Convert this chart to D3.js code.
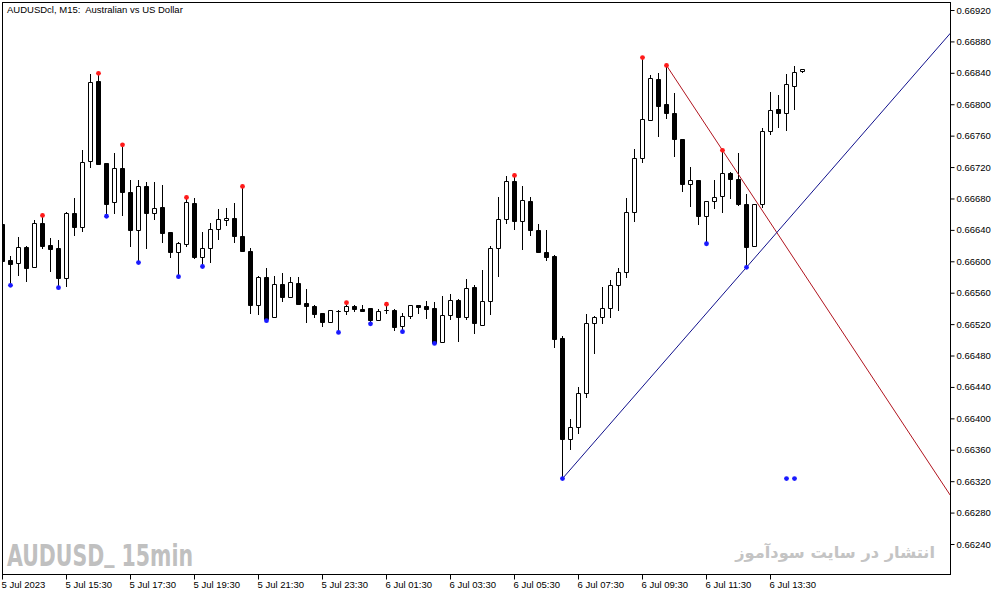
<!DOCTYPE html>
<html>
<head>
<meta charset="utf-8">
<script src="https://cdn.jsdelivr.net/npm/d3@7"></script>
<style>
  html, body { margin: 0; padding: 0; background: #fff; }
  svg { display: block; }
</style>
</head>
<body>
<div id="chart"></div>
<script>
// AUDUSD M15 bars, 5 Jul 2023 13:30 onwards
const open = [
  0.66647, 0.66602, 0.66598, 0.66618, 0.66593, 0.66649, 0.66621, 0.66617, 0.66579, 0.66661,
  0.66644, 0.66728, 0.66830, 0.66725, 0.66675, 0.66719, 0.66688, 0.66640, 0.66696, 0.66661,
  0.66669, 0.66637, 0.66612, 0.66622, 0.66674, 0.66605, 0.66617, 0.66641, 0.66652, 0.66655,
  0.66632, 0.66613, 0.66544, 0.66580, 0.66529, 0.66571, 0.66554, 0.66572, 0.66547, 0.66543,
  0.66534, 0.66523, 0.66537, 0.66537, 0.66543, 0.66539, 0.66540, 0.66525, 0.66538, 0.66538,
  0.66517, 0.66530, 0.66544, 0.66543, 0.66540, 0.66497, 0.66531, 0.66551, 0.66529, 0.66567,
  0.66519, 0.66549, 0.66617, 0.66654, 0.66702, 0.66651, 0.66677, 0.66640, 0.66612, 0.66607,
  0.66502, 0.66374, 0.66389, 0.66432, 0.66521, 0.66529, 0.66540, 0.66570, 0.66586, 0.66663,
  0.66732, 0.66780, 0.66832, 0.66800, 0.66789, 0.66756, 0.66698, 0.66703, 0.66658, 0.66677,
  0.66683, 0.66712, 0.66705, 0.66673, 0.66619, 0.66673, 0.66766, 0.66794, 0.66789, 0.66823,
  0.66842
];
const high = [
  0.66650, 0.66607, 0.66631, 0.66619, 0.66652, 0.66659, 0.66630, 0.66627, 0.66663, 0.66680,
  0.66742, 0.66838, 0.66840, 0.66725, 0.66738, 0.66749, 0.66703, 0.66703, 0.66701, 0.66701,
  0.66697, 0.66637, 0.66624, 0.66682, 0.66680, 0.66637, 0.66649, 0.66666, 0.66668, 0.66674,
  0.66696, 0.66617, 0.66581, 0.66591, 0.66581, 0.66585, 0.66580, 0.66580, 0.66565, 0.66544,
  0.66534, 0.66538, 0.66538, 0.66548, 0.66544, 0.66544, 0.66540, 0.66539, 0.66546, 0.66539,
  0.66534, 0.66544, 0.66544, 0.66549, 0.66548, 0.66556, 0.66558, 0.66552, 0.66577, 0.66570,
  0.66589, 0.66619, 0.66682, 0.66709, 0.66710, 0.66696, 0.66682, 0.66647, 0.66640, 0.66608,
  0.66505, 0.66399, 0.66440, 0.66533, 0.66530, 0.66567, 0.66576, 0.66591, 0.66680, 0.66743,
  0.66860, 0.66837, 0.66840, 0.66850, 0.66814, 0.66756, 0.66720, 0.66703, 0.66677, 0.66703,
  0.66742, 0.66714, 0.66738, 0.66686, 0.66673, 0.66770, 0.66816, 0.66812, 0.66838, 0.66849,
  0.66845
];
const low = [
  0.66598, 0.66570, 0.66582, 0.66575, 0.66593, 0.66617, 0.66588, 0.66567, 0.66568, 0.66633,
  0.66638, 0.66720, 0.66724, 0.66658, 0.66661, 0.66659, 0.66619, 0.66599, 0.66617, 0.66654,
  0.66624, 0.66605, 0.66581, 0.66619, 0.66604, 0.66594, 0.66599, 0.66628, 0.66646, 0.66624,
  0.66613, 0.66534, 0.66533, 0.66525, 0.66529, 0.66549, 0.66554, 0.66546, 0.66523, 0.66529,
  0.66517, 0.66523, 0.66510, 0.66533, 0.66537, 0.66537, 0.66521, 0.66525, 0.66534, 0.66512,
  0.66511, 0.66528, 0.66534, 0.66528, 0.66496, 0.66497, 0.66526, 0.66498, 0.66526, 0.66509,
  0.66519, 0.66533, 0.66581, 0.66649, 0.66641, 0.66616, 0.66633, 0.66612, 0.66602, 0.66491,
  0.66324, 0.66361, 0.66381, 0.66427, 0.66483, 0.66521, 0.66529, 0.66538, 0.66580, 0.66651,
  0.66726, 0.66780, 0.66760, 0.66782, 0.66734, 0.66690, 0.66670, 0.66647, 0.66623, 0.66668,
  0.66663, 0.66680, 0.66672, 0.66593, 0.66619, 0.66669, 0.66762, 0.66771, 0.66767, 0.66794,
  0.66841
];
const close = [
  0.66600, 0.66596, 0.66618, 0.66591, 0.66649, 0.66619, 0.66616, 0.66579, 0.66661, 0.66644,
  0.66726, 0.66828, 0.66724, 0.66673, 0.66719, 0.66688, 0.66640, 0.66696, 0.66661, 0.66668,
  0.66636, 0.66612, 0.66623, 0.66675, 0.66605, 0.66617, 0.66641, 0.66654, 0.66655, 0.66632,
  0.66613, 0.66544, 0.66580, 0.66526, 0.66571, 0.66554, 0.66574, 0.66546, 0.66543, 0.66533,
  0.66523, 0.66538, 0.66537, 0.66543, 0.66539, 0.66537, 0.66525, 0.66537, 0.66538, 0.66516,
  0.66530, 0.66544, 0.66542, 0.66539, 0.66496, 0.66531, 0.66551, 0.66529, 0.66566, 0.66521,
  0.66549, 0.66617, 0.66654, 0.66702, 0.66651, 0.66678, 0.66640, 0.66612, 0.66605, 0.66501,
  0.66374, 0.66389, 0.66432, 0.66521, 0.66529, 0.66540, 0.66570, 0.66586, 0.66663, 0.66732,
  0.66781, 0.66833, 0.66798, 0.66789, 0.66756, 0.66698, 0.66703, 0.66658, 0.66677, 0.66682,
  0.66712, 0.66705, 0.66673, 0.66618, 0.66673, 0.66766, 0.66793, 0.66789, 0.66826, 0.66841,
  0.66845
];

// fractal markers (bar indexes)
const upFractals = [5, 12, 15, 23, 30, 43, 48, 64, 80, 83, 90];
const downFractals = [1, 7, 13, 17, 22, 25, 33, 42, 46, 50, 54, 70, 88, 93];
const extraMarkBars = [98, 99];
const extraMarkPrice = 0.66324;

// trend lines: [bar1, bar2] anchored on highs / lows
const resistanceBars = [83, 90];
const supportBars = [70, 93];

const priceTicks = [0.66240, 0.66280, 0.66320, 0.66360, 0.66400, 0.66440, 0.66480, 0.66520, 0.66560,
  0.66600, 0.66640, 0.66680, 0.66720, 0.66760, 0.66800, 0.66840, 0.66880, 0.66920];
const timeTickBars = [0, 8, 16, 24, 32, 40, 48, 56, 64, 72, 80, 88, 96];
const timeTickLabels = ["5 Jul 2023", "5 Jul 15:30", "5 Jul 17:30", "5 Jul 19:30", "5 Jul 21:30",
  "5 Jul 23:30", "6 Jul 01:30", "6 Jul 03:30", "6 Jul 05:30", "6 Jul 07:30", "6 Jul 09:30",
  "6 Jul 11:30", "6 Jul 13:30"];

const W = 1003, H = 596;
const plot = {left: 2.5, top: 2.5, right: 950.5, bottom: 574.5};
const font = "'Liberation Sans', Arial, sans-serif";

const svg = d3.select("#chart").append("svg").attr("width", W).attr("height", H);
svg.append("rect").attr("width", W).attr("height", H).attr("fill", "#fff");

const x = d3.scaleLinear().domain([0, open.length - 1]).range([2.5, 802.5]);
const y = d3.scaleLinear().domain([0.66240, 0.66920]).range([544.5, 10.5]);
const py = v => Math.round(y(v) - 0.5) + 0.5;

svg.append("clipPath").attr("id", "plotclip")
  .append("rect")
  .attr("x", plot.left).attr("y", plot.top)
  .attr("width", plot.right - plot.left).attr("height", plot.bottom - plot.top);

// watermarks
const wm = svg.append("text")
  .attr("x", 7).attr("y", 566)
  .attr("font-family", "'Liberation Sans Narrow', 'DejaVu Sans Condensed', sans-serif")
  .attr("font-weight", "bold").attr("font-size", 30)
  .attr("fill", "#c0c0c0")
  .attr("textLength", 186).attr("lengthAdjust", "spacingAndGlyphs");
wm.append("tspan").text("AUDUSD");
wm.append("tspan").attr("dy", -5).text("_");
wm.append("tspan").attr("dy", 5).text(" 15min");

const fa = svg.append("text")
  .attr("x", 935).attr("y", 558)
  .attr("text-anchor", "end")
  .attr("font-family", "'DejaVu Sans', sans-serif")
  .attr("font-weight", "bold")
  .attr("font-size", 16)
  .attr("fill", "#c4c4c4")
  .text("انتشار در سایت سودآموز");
const faW = fa.node().getComputedTextLength();
if (faW > 0) fa.attr("font-size", 16 * 200 / faW);

const g = svg.append("g").attr("clip-path", "url(#plotclip)");

// candles
const bars = open.map((o, i) => ({i: i, o: o, h: high[i], l: low[i], c: close[i]}));
const candle = g.selectAll("g.candle").data(bars).join("g").attr("class", "candle");
candle.append("line")
  .attr("x1", d => x(d.i)).attr("x2", d => x(d.i))
  .attr("y1", d => py(d.h) - 0.5).attr("y2", d => py(d.l) + 0.5)
  .attr("stroke", "#000").attr("stroke-width", 1);
candle.append("path")
  .attr("d", d => {
    const top = py(Math.max(d.o, d.c)), bot = py(Math.min(d.o, d.c));
    return `M${x(d.i) - 2},${top}h4V${bot}h-4Z`;
  })
  .attr("fill", d => d.c >= d.o ? "#fff" : "#000")
  .attr("stroke", "#000").attr("stroke-width", 1);

// trend lines extended to the right edge
const xEnd = x.invert(plot.right);
function extendLine(b1, p1, b2, p2) {
  const s = (p2 - p1) / (b2 - b1);
  return [[b1, p1], [xEnd, p1 + s * (xEnd - b1)]];
}
const line = d3.line().x(d => x(d[0])).y(d => y(d[1]));
g.append("path")
  .attr("d", line(extendLine(resistanceBars[0], high[resistanceBars[0]], resistanceBars[1], high[resistanceBars[1]])))
  .attr("fill", "none").attr("stroke", "#b0141e").attr("stroke-width", 1);
g.append("path")
  .attr("d", line(extendLine(supportBars[0], low[supportBars[0]], supportBars[1], low[supportBars[1]])))
  .attr("fill", "none").attr("stroke", "#10108c").attr("stroke-width", 1);

// fractal dots
g.selectAll("circle.up").data(upFractals).join("circle").attr("class", "up")
  .attr("cx", d => x(d)).attr("cy", d => y(high[d])).attr("r", 2.4).attr("fill", "#ff1a1a");
g.selectAll("circle.down").data(downFractals).join("circle").attr("class", "down")
  .attr("cx", d => x(d)).attr("cy", d => y(low[d])).attr("r", 2.4).attr("fill", "#1a1aff");
g.selectAll("circle.extra").data(extraMarkBars).join("circle").attr("class", "extra")
  .attr("cx", d => x(d)).attr("cy", y(extraMarkPrice)).attr("r", 2.4).attr("fill", "#1a1aff");

// frame
svg.append("rect")
  .attr("x", plot.left).attr("y", plot.top)
  .attr("width", plot.right - plot.left).attr("height", plot.bottom - plot.top)
  .attr("fill", "none").attr("stroke", "#000").attr("stroke-width", 1);

// axes
const yAxis = d3.axisRight(y).tickValues(priceTicks).tickSize(4).tickPadding(2)
  .tickFormat(d3.format(".5f")).offset(0);
svg.append("g").attr("transform", `translate(${plot.right},0)`).call(yAxis)
  .call(a => a.select(".domain").remove())
  .attr("font-family", font).attr("font-size", 9.5)
  .call(a => a.selectAll("line").attr("stroke", "#000"))
  .call(a => a.selectAll("text").attr("fill", "#000"));

const xAxis = d3.axisBottom(x).tickValues(timeTickBars).tickSize(5).tickPadding(2)
  .tickFormat((d, i) => timeTickLabels[i]).offset(0);
svg.append("g").attr("transform", `translate(0,${plot.bottom})`).call(xAxis)
  .call(a => a.select(".domain").remove())
  .attr("font-family", font).attr("font-size", 9.5)
  .call(a => a.selectAll("line").attr("stroke", "#000"))
  .call(a => a.selectAll("text").attr("fill", "#000").attr("text-anchor", "start").attr("dx", -1));

// title
svg.append("text")
  .attr("x", 7).attr("y", 13)
  .attr("font-family", font).attr("font-size", 9.5)
  .attr("fill", "#000")
  .style("white-space", "pre")
  .text("AUDUSDcl, M15:  Australian vs US Dollar");
</script>
</body>
</html>
